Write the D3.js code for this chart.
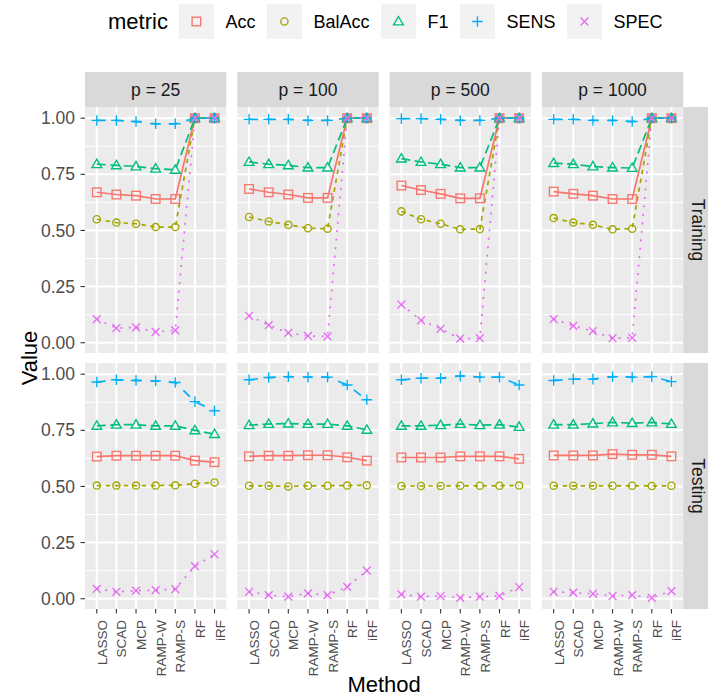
<!DOCTYPE html>
<html>
<head>
<meta charset="utf-8">
<script src="https://cdn.jsdelivr.net/npm/d3@7/dist/d3.min.js"></script>
<style>
body{margin:0;background:#fff}
text{font-family:"Liberation Sans",Arial,sans-serif}
</style>
</head>
<body>
<div id="chart"></div>
<script>
// categories
var methods = ["LASSO","SCAD","MCP","RAMP-W","RAMP-S","RF","iRF"]
var pLabels = ["p = 25","p = 100","p = 500","p = 1000"]
var sets = ["Training","Testing"]
var metrics = ["Acc","BalAcc","F1","SENS","SPEC"]
var yTicks = [0,0.25,0.5,0.75,1]

// values: one row per p (25, 100, 500, 1000), one value per method
var accTrain = [
  [0.670,0.660,0.655,0.640,0.640,1,1],
  [0.685,0.670,0.660,0.645,0.645,1,1],
  [0.700,0.680,0.663,0.643,0.643,1,1],
  [0.673,0.663,0.655,0.640,0.640,1,1]]
var balTrain = [
  [0.550,0.535,0.530,0.515,0.515,1,1],
  [0.560,0.540,0.525,0.510,0.508,1,1],
  [0.585,0.550,0.530,0.505,0.506,1,1],
  [0.555,0.535,0.525,0.505,0.508,1,1]]
var f1Train = [
  [0.795,0.790,0.785,0.775,0.770,1,1],
  [0.805,0.795,0.790,0.780,0.780,1,1],
  [0.820,0.805,0.795,0.780,0.780,1,1],
  [0.800,0.795,0.785,0.780,0.778,1,1]]
var sensTrain = [
  [0.990,0.990,0.985,0.975,0.975,1,1],
  [0.995,0.995,0.995,0.990,0.990,1,1],
  [0.998,0.998,0.995,0.990,0.990,1,1],
  [0.995,0.995,0.990,0.990,0.985,1,1]]
var specTrain = [
  [0.105,0.065,0.068,0.048,0.055,1,1],
  [0.120,0.078,0.044,0.030,0.028,1,1],
  [0.170,0.100,0.062,0.018,0.020,1,1],
  [0.105,0.075,0.052,0.020,0.022,1,1]]

var accTest = [
  [0.633,0.637,0.637,0.637,0.637,0.615,0.608],
  [0.634,0.637,0.637,0.639,0.639,0.630,0.615],
  [0.629,0.629,0.629,0.634,0.634,0.634,0.623],
  [0.638,0.638,0.638,0.644,0.641,0.641,0.634]]
var balTest = [
  [0.504,0.504,0.504,0.504,0.505,0.512,0.518],
  [0.503,0.503,0.500,0.503,0.503,0.504,0.505],
  [0.502,0.502,0.502,0.503,0.503,0.503,0.504],
  [0.503,0.503,0.503,0.503,0.503,0.502,0.503]]
var f1Test = [
  [0.770,0.775,0.775,0.770,0.770,0.750,0.733],
  [0.773,0.778,0.780,0.778,0.778,0.770,0.752],
  [0.770,0.770,0.773,0.778,0.773,0.775,0.765],
  [0.775,0.775,0.780,0.785,0.782,0.785,0.778]]
var sensTest = [
  [0.965,0.975,0.972,0.970,0.963,0.878,0.837],
  [0.975,0.985,0.989,0.987,0.987,0.952,0.886],
  [0.975,0.982,0.982,0.992,0.987,0.987,0.952],
  [0.972,0.978,0.978,0.989,0.987,0.989,0.967]]
var specTest = [
  [0.044,0.031,0.036,0.038,0.043,0.145,0.198],
  [0.031,0.016,0.009,0.024,0.016,0.053,0.125],
  [0.019,0.009,0.012,0.004,0.009,0.012,0.052],
  [0.031,0.027,0.022,0.012,0.016,0.004,0.034]]

var trainVals = [accTrain,balTrain,f1Train,sensTrain,specTrain]
var testVals = [accTest,balTest,f1Test,sensTest,specTest]

// styles
var colors = {Acc:"#F8766D",BalAcc:"#A3A500",F1:"#00BF7D",SENS:"#00B0F6",SPEC:"#E76BF3"}
var dashes = {Acc:null,BalAcc:"4.5,4.5",F1:"9,4.5",SENS:"9,9",SPEC:"2,6.5"}

var width = 708, height = 696
var leftX = 85, topY = 107, panelW = 141.3, panelH = 246, gap = 11, stripH = 35

var svg = d3.select("#chart").append("svg").attr("width",width).attr("height",height)

// long table
var rows = []
sets.forEach(function(s,si){
  var src = si == 0 ? trainVals : testVals
  metrics.forEach(function(m,mi){
    pLabels.forEach(function(p,pi){
      methods.forEach(function(meth,k){
        rows.push({set:s,metric:m,p:p,method:meth,value:src[mi][pi][k]})
      })
    })
  })
})

var ext = d3.extent(rows,function(d){return d.value})
var pad = (ext[1]-ext[0])*0.05
var yScale = d3.scaleLinear().domain([ext[0]-pad,ext[1]+pad]).range([panelH,0])
var xScale = d3.scalePoint().domain(methods).range([0,panelW]).padding(0.6)
var minor = [0.125,0.375,0.625,0.875]

function drawShape(g,m,x,y){
  var c = colors[m]
  var s = g.append("g").attr("transform","translate("+x+","+y+")")
    .attr("fill","none").attr("stroke",c).attr("stroke-width",1.35)
  if(m == "Acc") s.append("rect").attr("x",-4.3).attr("y",-4.3).attr("width",8.6).attr("height",8.6)
  else if(m == "BalAcc") s.append("circle").attr("r",3.6)
  else if(m == "F1") s.append("path").attr("d","M0,-5L4.9,3.4L-4.9,3.4Z")
  else if(m == "SENS") s.append("path").attr("d","M-5.3,0H5.3M0,-5.3V5.3")
  else s.append("path").attr("d","M-3.9,-3.9L3.9,3.9M-3.9,3.9L3.9,-3.9")
}

sets.forEach(function(s,si){
  var py = topY + si*(panelH+10)
  pLabels.forEach(function(p,pi){
    var px = leftX + pi*(panelW+gap)
    var g = svg.append("g").attr("transform","translate("+px+","+py+")")
    g.append("rect").attr("width",panelW).attr("height",panelH).attr("fill","#EBEBEB")
    g.selectAll(".minor").data(minor).enter().append("line")
      .attr("x1",0).attr("x2",panelW)
      .attr("y1",function(d){return yScale(d)}).attr("y2",function(d){return yScale(d)})
      .attr("stroke","#fff").attr("stroke-width",1)
    g.selectAll(".hmaj").data(yTicks).enter().append("line")
      .attr("x1",0).attr("x2",panelW)
      .attr("y1",function(d){return yScale(d)}).attr("y2",function(d){return yScale(d)})
      .attr("stroke","#fff").attr("stroke-width",2)
    g.selectAll(".vmaj").data(methods).enter().append("line")
      .attr("y1",0).attr("y2",panelH)
      .attr("x1",function(d){return xScale(d)}).attr("x2",function(d){return xScale(d)})
      .attr("stroke","#fff").attr("stroke-width",2)

    var line = d3.line().x(function(d){return xScale(d.method)}).y(function(d){return yScale(d.value)})
    metrics.forEach(function(m){
      var pts = rows.filter(function(r){return r.set==s && r.p==p && r.metric==m})
      g.append("path").datum(pts).attr("d",line).attr("fill","none")
        .attr("stroke",colors[m]).attr("stroke-width",1.7)
        .attr("stroke-dasharray",dashes[m])
    })
    metrics.forEach(function(m){
      rows.filter(function(r){return r.set==s && r.p==p && r.metric==m}).forEach(function(d){
        drawShape(g,m,xScale(d.method),yScale(d.value))
      })
    })

    // top strips
    if(si == 0){
      svg.append("rect").attr("x",px).attr("y",topY-stripH).attr("width",panelW).attr("height",stripH).attr("fill","#D9D9D9")
      svg.append("text").attr("x",px+panelW/2).attr("y",topY-stripH/2).attr("dy","0.35em")
        .attr("text-anchor","middle").attr("font-size","17.5px").attr("fill","#1A1A1A").text(p)
    }
    // y axis on first column
    if(pi == 0){
      var ya = svg.append("g").attr("transform","translate("+px+","+py+")")
      yTicks.forEach(function(t){
        ya.append("line").attr("x1",-4.5).attr("x2",0).attr("y1",yScale(t)).attr("y2",yScale(t))
          .attr("stroke","#333").attr("stroke-width",1.1)
        ya.append("text").attr("x",-10).attr("y",yScale(t)).attr("dy","0.35em")
          .attr("text-anchor","end").attr("font-size","17.5px").attr("fill","#4D4D4D").text(t.toFixed(2))
      })
    }
    // x axis on bottom row
    if(si == 1){
      var xa = svg.append("g").attr("transform","translate("+px+","+(py+panelH)+")")
      methods.forEach(function(m){
        xa.append("line").attr("x1",xScale(m)).attr("x2",xScale(m)).attr("y1",0).attr("y2",4.5)
          .attr("stroke","#333").attr("stroke-width",1.1)
        xa.append("text").attr("transform","translate("+(xScale(m)+10)+",11) rotate(-90)")
          .attr("text-anchor","end").attr("font-size","13.5px").attr("fill","#4D4D4D").text(m)
      })
    }
  })
  // right strip
  var sx = leftX + 4*panelW + 3*gap
  svg.append("rect").attr("x",sx).attr("y",py).attr("width",stripH).attr("height",panelH).attr("fill","#D9D9D9")
  svg.append("text").attr("transform","translate("+(sx+14.5)+","+(py+panelH/2)+") rotate(90)")
    .attr("dy","0.35em").attr("text-anchor","middle").attr("font-size","17.5px").attr("fill","#1A1A1A").text(s)
})

// axis titles
var plotMid = leftX + (4*panelW+3*gap)/2
svg.append("text").attr("x",plotMid).attr("y",692).attr("text-anchor","middle")
  .attr("font-size","22px").attr("fill","#000").text("Method")
svg.append("text").attr("transform","translate(37,"+(topY+panelH+5)+") rotate(-90)")
  .attr("text-anchor","middle").attr("font-size","22px").attr("fill","#000").text("Value")

// legend
var lg = svg.append("g").attr("transform","translate(0,4)")
var title = lg.append("text").attr("x",108).attr("y",17.5).attr("dy","0.35em")
  .attr("font-size","22px").attr("fill","#000").text("metric")
var lx = 108 + title.node().getComputedTextLength() + 11
metrics.forEach(function(m){
  lg.append("rect").attr("x",lx).attr("y",0).attr("width",35).attr("height",35).attr("fill","#F2F2F2")
  drawShape(lg,m,lx+17.5,17.5)
  var t = lg.append("text").attr("x",lx+35+11.5).attr("y",17.5).attr("dy","0.35em")
    .attr("font-size","18px").attr("fill","#000").text(m)
  lx = lx + 35 + 11.5 + t.node().getComputedTextLength() + 11.5
})
</script>
</body>
</html>
